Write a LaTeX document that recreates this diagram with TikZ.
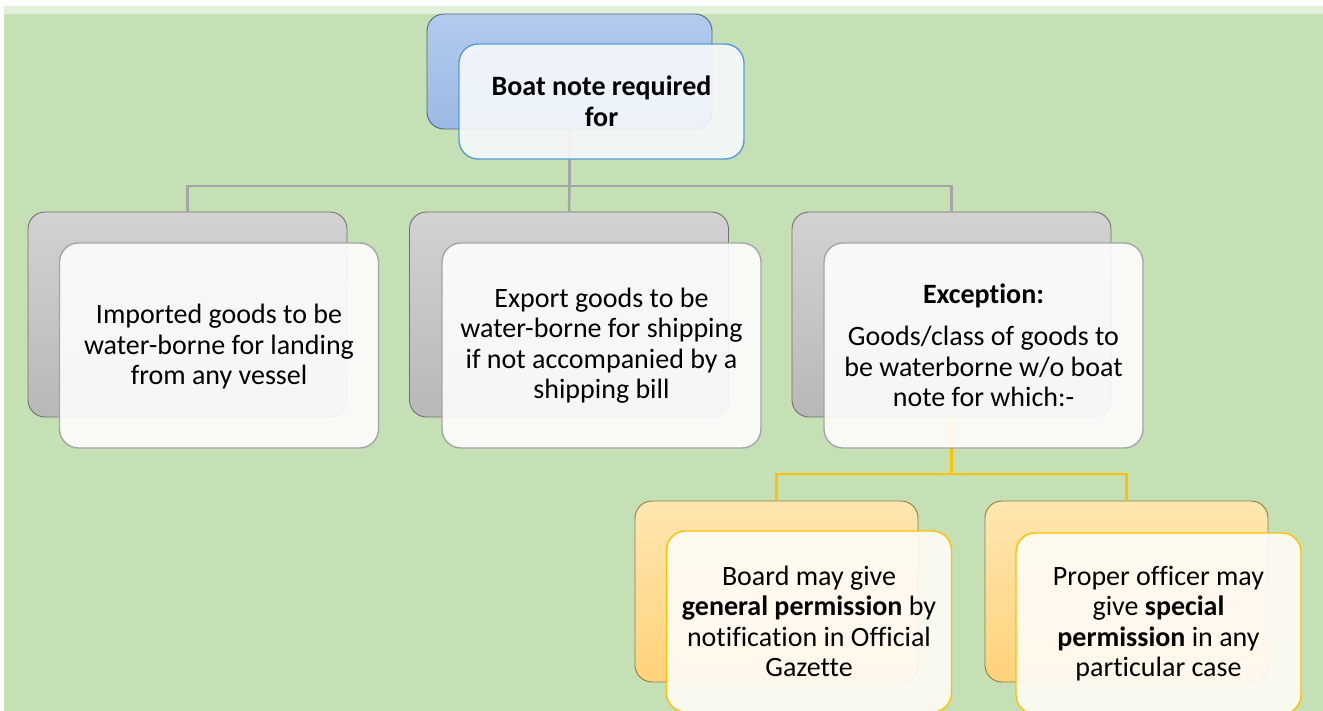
\documentclass[tikz,border=0pt]{standalone}
\usepackage{fontspec}
\setmainfont{Carlito}[Ligatures={NoCommon}]
\definecolor{bggreen}{HTML}{C5E0B4}
\definecolor{bgband}{HTML}{E2F0D9}
\definecolor{blueTop}{HTML}{B3CBEE}
\definecolor{blueBot}{HTML}{9BB9E4}
\definecolor{blueEdge}{HTML}{56657A}
\definecolor{blueLine}{HTML}{5B9BD5}
\definecolor{grayTop}{HTML}{D2D2D2}
\definecolor{grayBot}{HTML}{B8B8B8}
\definecolor{grayEdge}{HTML}{707070}
\definecolor{grayLine}{HTML}{A5A5A5}
\definecolor{orTop}{HTML}{FFE6B0}
\definecolor{orBot}{HTML}{FFD27A}
\definecolor{orEdge}{HTML}{8C7B4A}
\definecolor{orLine}{HTML}{FFC000}
\definecolor{frontBlue}{HTML}{F6F9FD}
\definecolor{frontGray}{HTML}{FDFDFD}
\definecolor{frontOr}{HTML}{FFFCF7}
\tikzset{
  txt/.style={font=\fontsize{28}{30.5}\selectfont, align=center, text=black},
  backbox/.style={draw, line width=0.9pt, rounded corners=17pt, inner sep=0pt},
  frontbox/.style={txt, draw, line width=1.4pt, rounded corners=19pt, inner sep=0pt, fill opacity=0.9, text opacity=1},
  bluebk/.style={backbox, draw=blueEdge, top color=blueTop, bottom color=blueBot, minimum width=285pt, minimum height=115pt},
  bluefr/.style={frontbox, draw=blueLine, fill=frontBlue, minimum width=285pt, minimum height=115pt},
  graybk/.style={backbox, draw=grayEdge, top color=grayTop, bottom color=grayBot, minimum width=319pt, minimum height=205pt},
  grayfr/.style={frontbox, draw=grayLine, fill=frontGray, minimum width=319pt, minimum height=205pt},
  orbk/.style={backbox, draw=orEdge, top color=orTop, bottom color=orBot, minimum width=283pt, minimum height=181pt},
  orfr/.style={frontbox, draw=orLine, fill=frontOr, minimum width=285pt, minimum height=181pt},
  gline/.style={draw=grayLine, line width=2.5pt},
  oline/.style={draw=orLine, line width=2.5pt},
}
\begin{document}
\begin{tikzpicture}[x=1pt,y=-1pt]
\useasboundingbox (0,0) rectangle (1323,711);
\fill[white] (0,0) rectangle (1323,711);
\fill[bgband] (4,6) rectangle (1323,14);
\fill[bggreen] (4,14) rectangle (1323,711);
% back boxes
\node[bluebk] (tb) at (569.5,71.5) {};
\node[graybk] (g1b) at (187.5,314.5) {};
\node[graybk] (g2b) at (569,314.5) {};
\node[graybk] (g3b) at (951.5,314.5) {};
\node[orbk] (o1b) at (776.5,591.5) {};
\node[orbk] (o2b) at (1126.5,591.5) {};
% connectors
\coordinate (j1) at (569.5,186);
\coordinate (j2) at (951.5,474);
\draw[gline] (tb.south) -- (j1);
\draw[gline] (j1) -| (g1b.north);
\draw[gline] (j1) -| (g3b.north);
\draw[gline] (j1) -- (g2b.north);
\draw[oline] (g3b.south) -- (j2);
\draw[oline] (j2) -| (o1b.north);
\draw[oline] (j2) -| (o2b.north);
% front boxes
\node[bluefr] (tf) at (601.5,101.5) {\textbf{Boat note required}\\\textbf{for}};
\node[grayfr] (g1f) at (219,345.5) {\mbox{}\\[-8.5pt]Imported goods to be\\water-borne for landing\\from any vessel};
\node[grayfr] (g2f) at (601.5,345.5) {Export goods to be\\water-borne for shipping\\if not accompanied by a\\shipping bill};
\node[grayfr] (g3f) at (983.5,345.5) {\textbf{Exception:}\\[12pt]Goods/class of goods to\\be waterborne w/o boat\\note for which:-};
\node[orfr] (o1f) at (809,621.5) {Board may give\\\textbf{general permission} by\\notification in Official\\Gazette};
\node[orfr] (o2f) at (1158.5,623.5) {Proper officer may\\give \textbf{special}\\\textbf{permission} in any\\particular case};
\end{tikzpicture}
\end{document}
